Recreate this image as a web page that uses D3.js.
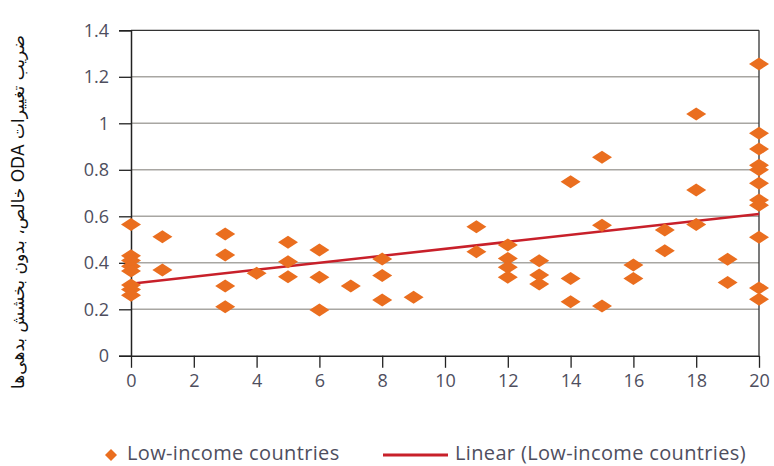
<!DOCTYPE html>
<html>
<head>
<meta charset="utf-8">
<script src="https://cdn.jsdelivr.net/npm/d3@7"></script>
<style>
  html, body { margin: 0; padding: 0; background: #fff; }
  svg { display: block; }
</style>
</head>
<body>
<svg id="chart" width="774" height="466"></svg>
<script>
// ---- data ----
const xValues = [
  0,0,0,0,0,0,0,0,
  1,1,
  3,3,3,3,
  4,
  5,5,5,
  6,6,6,
  7,
  8,8,8,
  9,
  11,11,
  12,12,12,12,
  13,13,13,
  14,14,14,
  15,15,15,
  16,16,
  17,17,
  18,18,18,
  19,19,
  20,20,20,20,20,20,20,20,20,20,20
];
const yValues = [
  0.565,0.43,0.41,0.385,0.365,0.305,0.285,0.26,
  0.512,0.369,
  0.524,0.434,0.30,0.211,
  0.355,
  0.488,0.405,0.340,
  0.455,0.338,0.197,
  0.300,
  0.416,0.345,0.240,
  0.252,
  0.555,0.448,
  0.477,0.419,0.381,0.338,
  0.409,0.348,0.309,
  0.749,0.333,0.233,
  0.854,0.561,0.214,
  0.391,0.333,
  0.541,0.452,
  1.040,0.713,0.565,
  0.415,0.315,
  1.255,0.957,0.889,0.82,0.80,0.742,0.670,0.648,0.510,0.292,0.243
];
const trendX = [0, 20];
const trendY = [0.31, 0.61];
const xTicks = [0,2,4,6,8,10,12,14,16,18,20];
const yTicks = [0,0.2,0.4,0.6,0.8,1,1.2,1.4];
const yTickLabels = ["0","0.2","0.4","0.6","0.8","1","1.2","1.4"];
const legendLabels = ["Low-income countries", "Linear (Low-income countries)"];
const yTitle = "ضريب تغييرات ODA خالص، بدون بخشش بدهی‌ها";

// ---- drawing ----
(function () {
const svg = d3.select("#chart");
const pL = 131, pR = 759, pT = 30.3, pB = 355.8;
const x = d3.scaleLinear().domain([0, 20]).range([pL, pR]);
const y = d3.scaleLinear().domain([0, 1.4]).range([pB, pT]);

const orange = "#ea6e1f";
const red = "#c8202a";
const textCol = "#4e4e5e";
const font = "'Open Sans', 'Noto Sans', sans-serif";

// gridlines
svg.append("g").selectAll("line")
  .data(yTicks.filter(v => v > 0 && v < 1.4))
  .join("line")
  .attr("x1", pL).attr("x2", pR)
  .attr("y1", d => y(d)).attr("y2", d => y(d))
  .attr("stroke", "#a8a6a2").attr("stroke-width", 1.5);

// frame top & right
svg.append("line").attr("x1", pL).attr("x2", pR).attr("y1", y(1.4)).attr("y2", y(1.4))
  .attr("stroke", "#333").attr("stroke-width", 1.3);
svg.append("line").attr("x1", pR).attr("x2", pR).attr("y1", y(1.4)).attr("y2", y(0))
  .attr("stroke", "#333").attr("stroke-width", 1.3);

// y axis
const yAxis = svg.append("g").attr("transform", `translate(${pL},0)`)
  .call(d3.axisLeft(y).tickValues(yTicks).tickSize(12).tickPadding(10)
        .tickFormat((d, i) => yTickLabels[i]));
yAxis.select(".domain").attr("stroke", "#222").attr("stroke-width", 1.5);
yAxis.selectAll(".tick line").attr("stroke", "#222").attr("stroke-width", 1.3);
yAxis.selectAll("text").attr("fill", textCol).attr("font-family", font).attr("font-size", 18);

// x axis
const xAxis = svg.append("g").attr("transform", `translate(0,${pB})`)
  .call(d3.axisBottom(x).tickValues(xTicks).tickSize(12).tickPadding(6).tickSizeOuter(0));
xAxis.select(".domain").attr("stroke", "#222").attr("stroke-width", 1.5);
xAxis.selectAll(".tick line").attr("stroke", "#222").attr("stroke-width", 1.3);
xAxis.selectAll("text").attr("fill", textCol).attr("font-family", font).attr("font-size", 18);

// trend line
const line = d3.line().x(d => x(d[0])).y(d => y(d[1]));
svg.append("path")
  .datum(trendX.map((v, i) => [v, trendY[i]]))
  .attr("d", line).attr("stroke", red).attr("stroke-width", 2.5).attr("fill", "none");

// diamonds
const dw = 10, dh = 6.5;
const diamond = `M${-dw},0L0,${-dh}L${dw},0L0,${dh}Z`;
svg.append("g").selectAll("path")
  .data(xValues.map((v, i) => [v, yValues[i]]))
  .join("path")
  .attr("d", diamond)
  .attr("transform", d => `translate(${x(d[0])},${y(d[1])})`)
  .attr("fill", orange);

// y title
svg.append("text")
  .attr("transform", `translate(24,212) rotate(-90)`)
  .attr("text-anchor", "middle")
  .attr("direction", "rtl")
  .attr("font-family", "'DejaVu Sans', 'Noto Sans', sans-serif")
  .attr("font-size", 17)
  .attr("fill", "#111")
  .text(yTitle);

// legend
const ly = 453;
svg.append("path").attr("d", `M-6,0L0,-6L6,0L0,6Z`)
  .attr("transform", `translate(111,${ly + 2})`).attr("fill", orange);
svg.append("text").attr("x", 127).attr("y", ly).attr("dy", "0.35em")
  .attr("font-family", font).attr("font-size", 20).attr("fill", textCol)
  .attr("letter-spacing", 0.35)
  .text(legendLabels[0]);
svg.append("line").attr("x1", 383).attr("x2", 448).attr("y1", ly + 2).attr("y2", ly + 2)
  .attr("stroke", red).attr("stroke-width", 3);
svg.append("text").attr("x", 455).attr("y", ly).attr("dy", "0.35em")
  .attr("font-family", font).attr("font-size", 20).attr("fill", textCol)
  .attr("letter-spacing", 0.35)
  .text(legendLabels[1]);
})();
</script>
</body>
</html>
